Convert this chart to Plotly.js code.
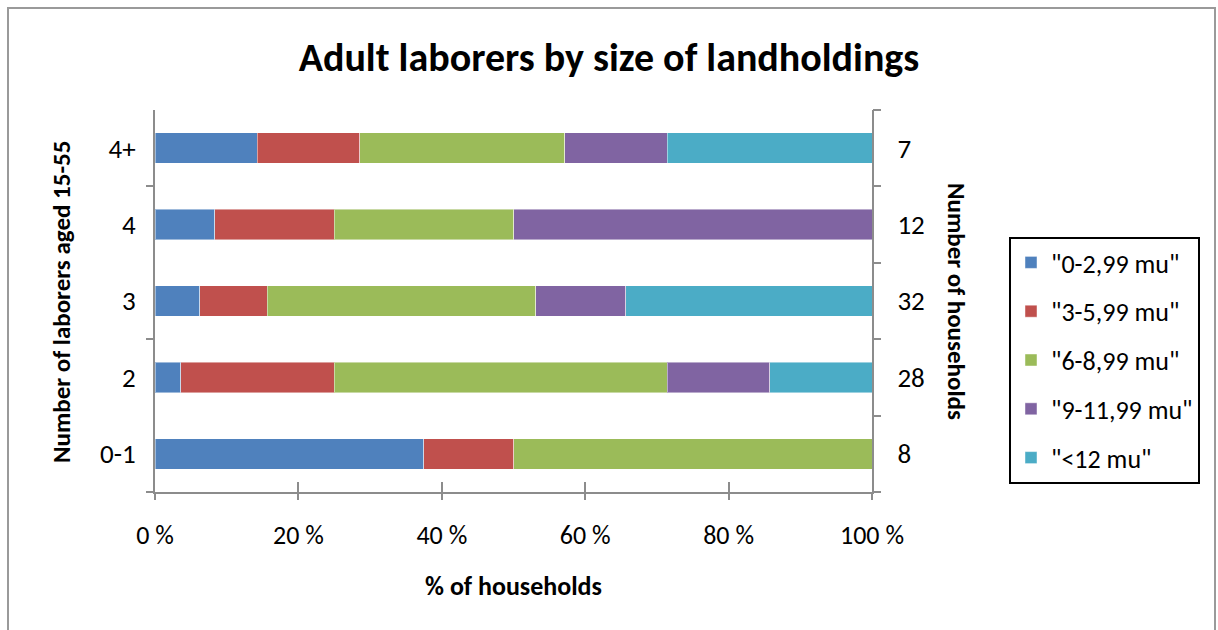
<!DOCTYPE html>
<html>
<head>
<meta charset="utf-8">
<script src="https://cdn.plot.ly/plotly-3.0.1.min.js"></script>
<style>
  html, body { margin: 0; padding: 0; background: #fff; }
  #wrap { position: relative; width: 1218px; height: 630px; overflow: hidden; }
  #frame { position: absolute; left: 7px; top: 7px; width: 1209px; height: 700px; border: 2px solid #9a9a9a; box-sizing: border-box; }
  #chart { position: absolute; left: 0; top: 0; width: 1218px; height: 630px; }
</style>
</head>
<body>
<div id="wrap">
  <div id="frame"></div>
  <div id="chart"></div>
</div>
<script>
// Categories (bottom to top)
const categories = ["0-1", "2", "3", "4", "4+"];
const households = ["8", "28", "32", "12", "7"];
const seriesNames = ['"0-2,99 mu"', '"3-5,99 mu"', '"6-8,99 mu"', '"9-11,99 mu"', '"<12 mu"'];
// Shares of households (fraction) per category
const s0_3   = [0.375, 0.0357, 0.0625, 0.0833, 0.1429];
const s3_6   = [0.125, 0.2143, 0.0938, 0.1667, 0.1429];
const s6_9   = [0.500, 0.4643, 0.3750, 0.2500, 0.2857];
const s9_12  = [0.000, 0.1429, 0.1250, 0.5000, 0.1429];
const s12    = [0.000, 0.1429, 0.3438, 0.0000, 0.2857];
const xTickVals = [0, 0.2, 0.4, 0.6, 0.8, 1.0];
const xTickText = ["0 %", "20 %", "40 %", "60 %", "80 %", "100 %"];

const colors = ["#4F81BD", "#C0504D", "#9BBB59", "#8064A2", "#4BACC6"];
const seriesValues = [s0_3, s3_6, s6_9, s9_12, s12];
const FONT = "Carlito, Calibri, 'Liberation Sans Narrow', 'Open Sans', sans-serif";
const grey = "#8c8c8c";

const traces = seriesValues.map((vals, i) => ({
  type: "bar",
  orientation: "h",
  name: seriesNames[i],
  x: vals,
  y: categories,
  width: 0.4,
  legendgroup: "g" + i,
  marker: { color: colors[i], line: { color: "rgba(255,255,255,0.45)", width: 1 } },
  hoverinfo: "x+name"
}));
// helper traces so overlay axes are drawn
traces.push({ type: "scatter", x: [], y: [], xaxis: "x2", yaxis: "y", showlegend: false, hoverinfo: "skip" });
traces.push({ type: "scatter", x: [], y: [], xaxis: "x", yaxis: "y2", showlegend: false, hoverinfo: "skip" });
traces.push({ type: "scatter", x: [], y: [], xaxis: "x", yaxis: "y3", showlegend: false, hoverinfo: "skip" });
traces.push({ type: "scatter", x: [], y: [], xaxis: "x", yaxis: "y4", showlegend: false, hoverinfo: "skip" });

const boundaries = categories.map((c, i) => i - 0.5).concat([categories.length - 0.5]);

const layout = {
  width: 1218, height: 630,
  paper_bgcolor: "rgba(0,0,0,0)",
  plot_bgcolor: "rgba(0,0,0,0)",
  margin: { l: 155, r: 346, t: 110, b: 138 },
  barmode: "stack",
  font: { family: FONT, color: "#000", size: 26 },
  title: {
    text: "<b>Adult laborers by size of landholdings</b>",
    font: { family: FONT, size: 40, color: "#000" },
    x: 0.5, xref: "container", xanchor: "center",
    y: 1 - 57 / 630, yref: "container", yanchor: "middle"
  },
  xaxis: {
    range: [0, 1], tickvals: xTickVals, ticktext: xTickText,
    showline: true, linecolor: grey, linewidth: 2,
    ticks: "outside", ticklen: 6, tickwidth: 2, tickcolor: grey,
    showgrid: false, zeroline: false,
    ticklabelstandoff: 13,
    tickfont: { family: FONT, size: 26 },
    title: { text: "<b>% of households</b>", font: { family: FONT, size: 26 }, standoff: 27 }
  },
  xaxis2: {
    overlaying: "x", anchor: "y", side: "bottom", range: [0, 1], tickvals: xTickVals,
    showticklabels: false, ticks: "inside", ticklen: 10, tickwidth: 2, tickcolor: grey,
    showline: false, showgrid: false, zeroline: false
  },
  yaxis: {
    type: "category", categoryorder: "array", categoryarray: categories,
    range: [-0.5, categories.length - 0.5],
    showline: true, linecolor: grey, linewidth: 2,
    ticks: "", showgrid: false, zeroline: false,
    ticklabelstandoff: 12,
    tickfont: { family: FONT, size: 27 }
  },
  yaxis2: {
    overlaying: "y", side: "left", anchor: "x",
    range: [-0.5, categories.length - 0.5],
    tickvals: [-0.5, 1.5, 3.5], showticklabels: false,
    ticks: "outside", ticklen: 8, tickwidth: 2, tickcolor: grey,
    showline: false, showgrid: false, zeroline: false
  },
  yaxis3: {
    overlaying: "y", side: "right", anchor: "x",
    range: [-0.5, categories.length - 0.5],
    tickvals: [0, 1, 2, 3, 4], ticktext: households,
    ticks: "", showline: true, linecolor: grey, linewidth: 2,
    showgrid: false, zeroline: false,
    ticklabelstandoff: 18,
    tickfont: { family: FONT, size: 27 }
  },
  yaxis4: {
    overlaying: "y", side: "right", anchor: "x",
    range: [-0.5, categories.length - 0.5],
    tickvals: boundaries, showticklabels: false,
    ticks: "outside", ticklen: 8, tickwidth: 2, tickcolor: grey,
    showline: false, showgrid: false, zeroline: false
  },
  legend: {
    x: (1009 - 155) / 717, xanchor: "left",
    y: (492 - 237) / 382, yanchor: "top",
    traceorder: "grouped", tracegroupgap: 12,
    bordercolor: "#000", borderwidth: 2, bgcolor: "#fff",
    font: { family: FONT, size: 26 },
    itemwidth: 30
  },
  annotations: [
    {
      text: "<b>Number of laborers aged 15-55</b>", xref: "paper", yref: "paper",
      x: (61 - 155) / 717, y: (492 - 302) / 382, xanchor: "center", yanchor: "middle",
      textangle: -90, showarrow: false, font: { family: FONT, size: 25 }
    },
    {
      text: "<b>Number of households</b>", xref: "paper", yref: "paper",
      x: (957 - 155) / 717, y: (492 - 301) / 382, xanchor: "center", yanchor: "middle",
      textangle: 90, showarrow: false, font: { family: FONT, size: 25 }
    }
  ],
  showlegend: true
};

Plotly.newPlot("chart", traces, layout, { displayModeBar: false, staticPlot: true });
</script>
</body>
</html>
